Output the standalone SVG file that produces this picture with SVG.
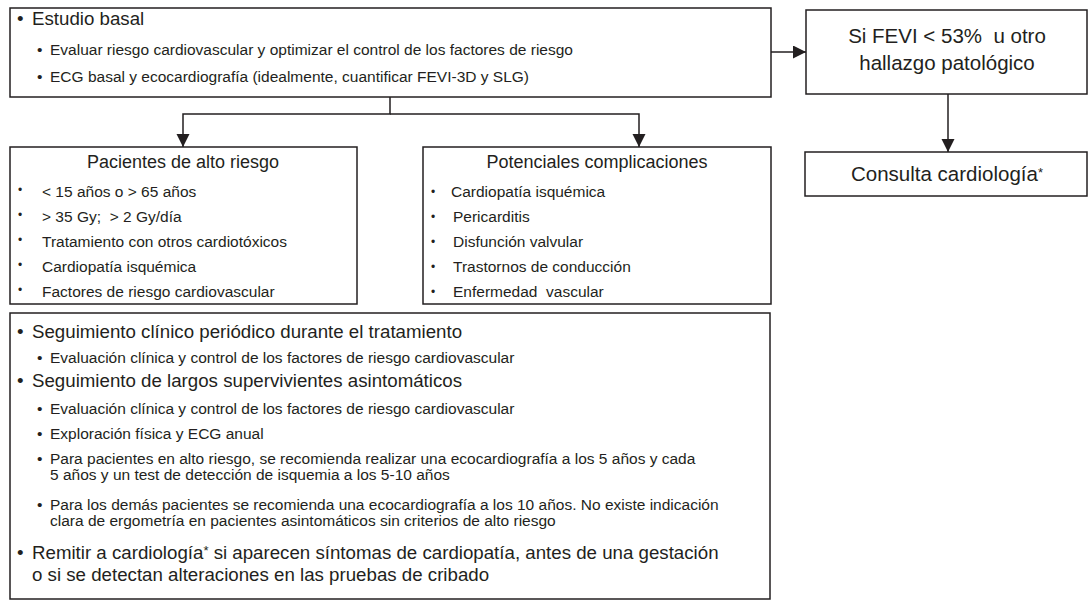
<svg xmlns="http://www.w3.org/2000/svg" width="1089" height="601" viewBox="0 0 1089 601">
<style>
.box{fill:#fff;stroke:#231f20;stroke-width:1.5}
.t{font-family:"Liberation Sans",Arial,sans-serif;fill:#231f20;white-space:pre}
.l1{font-size:18.7px}
.l2{font-size:15.5px}
.h{font-size:18px;text-anchor:middle}
.it{font-size:15.5px}
.bs{font-size:12px}
.big{font-size:20.5px;text-anchor:middle}
.conn{stroke:#231f20;stroke-width:1.5;fill:none}
.sup{font-size:13px}
</style>
<defs>
<marker id="ah" markerUnits="userSpaceOnUse" markerWidth="14" markerHeight="14" refX="13" refY="6.5" orient="auto">
<path d="M0,0 L13,6.5 L0,13 Z" fill="#231f20"/>
</marker>
</defs>
<rect width="1089" height="601" fill="#fff"/>

<g id="connectors">
<path class="conn" d="M771,52 H806" marker-end="url(#ah)"/>
<path class="conn" d="M948,94 V152" marker-end="url(#ah)"/>
<path class="conn" d="M390,97 V114 H183 V147" marker-end="url(#ah)"/>
<path class="conn" d="M390,114 H639 V147" marker-end="url(#ah)"/>
</g>

<g id="estudio-basal">
<rect class="box" x="10" y="8" width="761" height="89"/>
<text class="t l1" x="17" y="25">•</text>
<text class="t l1" x="32" y="25">Estudio basal</text>
<text class="t l2" x="37" y="55">•</text>
<text class="t l2" x="50" y="55">Evaluar riesgo cardiovascular y optimizar el control de los factores de riesgo</text>
<text class="t l2" x="37" y="82">•</text>
<text class="t l2" x="50" y="82">ECG basal y ecocardiografía (idealmente, cuantificar FEVI-3D y SLG)</text>
</g>

<g id="fevi">
<rect class="box" x="806" y="10" width="281" height="84"/>
<text class="t big" x="947" y="43">Si FEVI &lt; 53%  u otro</text>
<text class="t big" x="947" y="70">hallazgo patológico</text>
</g>

<g id="consulta">
<rect class="box" x="805" y="152" width="282" height="44"/>
<text class="t big" x="947" y="181">Consulta cardiología<tspan class="sup" dy="-4">*</tspan></text>
</g>

<g id="alto-riesgo">
<rect class="box" x="10" y="147" width="347" height="157"/>
<text class="t h" x="183" y="168">Pacientes de alto riesgo</text>
<text class="t bs" x="18" y="194">•</text>
<text class="t it" x="42" y="197">&lt; 15 años o &gt; 65 años</text>
<text class="t bs" x="18" y="219">•</text>
<text class="t it" x="42" y="222">&gt; 35 Gy;  &gt; 2 Gy/día</text>
<text class="t bs" x="18" y="244">•</text>
<text class="t it" x="42" y="247">Tratamiento con otros cardiotóxicos</text>
<text class="t bs" x="18" y="269">•</text>
<text class="t it" x="42" y="272">Cardiopatía isquémica</text>
<text class="t bs" x="18" y="294">•</text>
<text class="t it" x="42" y="297">Factores de riesgo cardiovascular</text>
</g>

<g id="complicaciones">
<rect class="box" x="423" y="147" width="348" height="157"/>
<text class="t h" x="597" y="168">Potenciales complicaciones</text>
<text class="t bs" x="431" y="196">•</text>
<text class="t it" x="451" y="197">Cardiopatía isquémica</text>
<text class="t bs" x="431" y="221">•</text>
<text class="t it" x="453" y="222">Pericarditis</text>
<text class="t bs" x="431" y="246">•</text>
<text class="t it" x="453" y="247">Disfunción valvular</text>
<text class="t bs" x="431" y="271">•</text>
<text class="t it" x="453" y="272">Trastornos de conducción</text>
<text class="t bs" x="431" y="296">•</text>
<text class="t it" x="453" y="297">Enfermedad  vascular</text>
</g>

<g id="seguimiento">
<rect class="box" x="10" y="313" width="760" height="286"/>
<text class="t l1" x="17" y="338">•</text>
<text class="t l1" x="32" y="338">Seguimiento clínico periódico durante el tratamiento</text>
<text class="t l2" x="37" y="363">•</text>
<text class="t l2" x="50" y="363">Evaluación clínica y control de los factores de riesgo cardiovascular</text>
<text class="t l1" x="17" y="387">•</text>
<text class="t l1" x="32" y="387">Seguimiento de largos supervivientes asintomáticos</text>
<text class="t l2" x="37" y="414">•</text>
<text class="t l2" x="50" y="414">Evaluación clínica y control de los factores de riesgo cardiovascular</text>
<text class="t l2" x="37" y="439">•</text>
<text class="t l2" x="50" y="439">Exploración física y ECG anual</text>
<text class="t l2" x="37" y="464">•</text>
<text class="t l2" x="50" y="464">Para pacientes en alto riesgo, se recomienda realizar una ecocardiografía a los 5 años y cada</text>
<text class="t l2" x="50" y="480">5 años y un test de detección de isquemia a los 5-10 años</text>
<text class="t l2" x="37" y="510">•</text>
<text class="t l2" x="50" y="510">Para los demás pacientes se recomienda una ecocardiografía a los 10 años. No existe indicación</text>
<text class="t l2" x="50" y="526">clara de ergometría en pacientes asintomáticos sin criterios de alto riesgo</text>
<text class="t l1" x="17" y="559">•</text>
<text class="t l1" x="32" y="559">Remitir a cardiología<tspan class="sup" dy="-4">*</tspan><tspan dy="4"> si aparecen síntomas de cardiopatía, antes de una gestación</tspan></text>
<text class="t l1" x="32" y="581">o si se detectan alteraciones en las pruebas de cribado</text>
</g>
</svg>
